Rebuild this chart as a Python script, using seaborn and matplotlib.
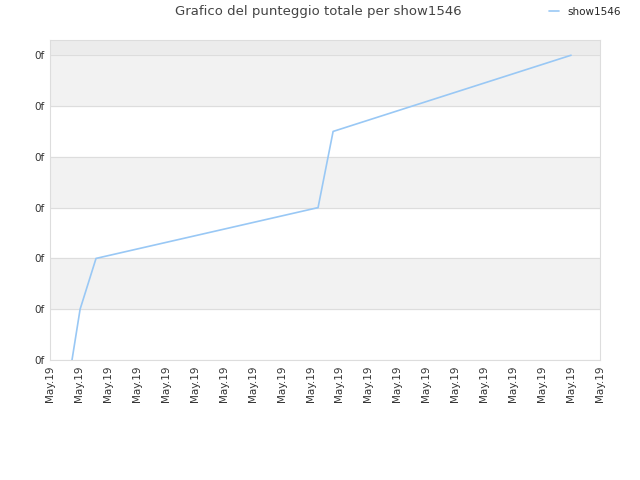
import numpy as np
import matplotlib
matplotlib.use("Agg")
import matplotlib.pyplot as plt
import seaborn as sns

# dati (indice asse x, punteggio in unità di griglia)
giorni = [0.76, 1.04, 1.59, 9.26, 9.78, 18.0]
punteggio = [0.0, 1.0, 2.0, 3.0, 4.5, 6.0]
etichette_x = ["May.19"] * 20
etichette_y = ["0f"] * 7
serie = "show1546"

sns.set_theme(style="white")
plt.rcParams['font.family'] = ['DejaVu Sans']

fig = plt.figure(figsize=(6.4, 4.8), dpi=100)
ax = fig.add_axes([50 / 640, 120 / 480, 550 / 640, 320 / 480])

# bande alternate
ymax = 6.3
ax.axhspan(6, ymax, color="#ececec", zorder=0)
for k in range(1, 7):
    if k % 2 == 0:
        ax.axhspan(k - 1, k, color="#f2f2f2", zorder=0)
for k in range(7):
    ax.axhline(k, color="#dddddd", lw=0.8, zorder=1)

sns.lineplot(x=giorni, y=punteggio, ax=ax, color="#99c8f5", lw=1.2,
             label=serie, zorder=3)

ax.set_xlim(0, 19)
ax.set_ylim(0, ymax)
ax.set_xticks(np.arange(len(etichette_x)))
ax.set_xticklabels(etichette_x, rotation=90, fontsize=7.5, color="#333333")
ax.set_yticks(np.arange(len(etichette_y)))
ax.set_yticklabels(etichette_y, fontsize=7.5, color="#333333")
ax.tick_params(length=0, pad=4)
for s in ax.spines.values():
    s.set_color("#dddddd")
    s.set_linewidth(0.8)

fig.suptitle("Grafico del punteggio totale per show1546", x=318 / 640,
             y=1 - 12 / 480, fontsize=9.5, color="#444444", va="center")
ax.legend(loc="center left", bbox_to_anchor=(499 / 550, 1 + 28 / 320),
          frameon=False, fontsize=7.5, handlelength=1.0, handletextpad=0.8,
          borderaxespad=0, borderpad=0)

fig.savefig("out.png", dpi=100)
